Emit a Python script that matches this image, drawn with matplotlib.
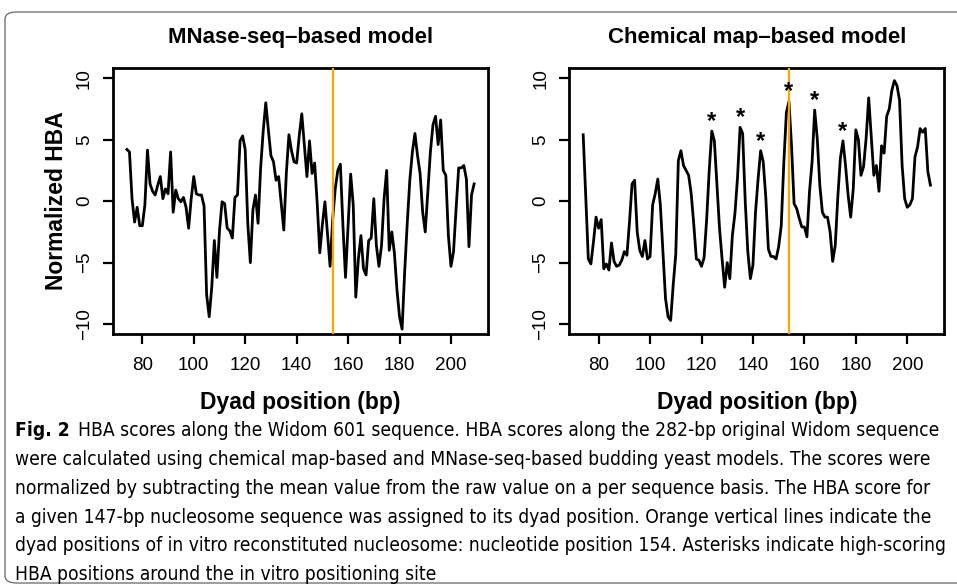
import matplotlib
matplotlib.use("Agg")
import matplotlib.pyplot as plt
from matplotlib.patches import FancyBboxPatch

# dyad positions (bp) of the 147-bp windows on the 282-bp Widom sequence
dyad = list(range(74, 210))

mnase_hba = [
    4.2, 4.0, 0.2, -1.7, -0.5, -2.0, -2.0, -0.3, 4.15, 1.4,
    0.8, 0.5, 1.3, 2.0, 0.2, 1.0, 0.6, 4.0, -0.9, 0.9,
    0.2, -0.05, 0.3, -0.5, -2.2, 0.2, 2.0, 0.6, 0.5, 0.5,
    -0.4, -7.6, -9.4, -7.0, -3.2, -6.2, -2.4, -0.05, -0.2, -2.2,
    -2.4, -3.0, 0.3, 0.5, 4.9, 5.3, 4.2, -1.8, -5.0, -0.7,
    0.5, -1.8, 2.7, 5.7, 8.0, 5.8, 3.7, 3.2, 1.7, 2.0,
    -0.2, -2.35, 2.3, 5.4, 4.1, 3.2, 3.1, 5.3, 7.1, 4.5,
    2.0, 4.9, 2.25, 3.1, -0.2, -4.2, -1.9, -0.05, -2.7, -5.3,
    -1.5, 1.0, 2.5, 3.0, -2.0, -6.2, -2.0, 2.2, -0.3, -7.8,
    -4.7, -2.8, -5.5, -6.0, -3.2, -3.0, 0.2, -3.6, -5.3, -3.6,
    0.2, 2.5, -4.0, -2.5, -4.2, -7.2, -9.4, -10.4, -5.75, -1.8,
    1.7, 4.0, 5.5, 3.7, 2.25, -0.9, -2.5, 0.8, 4.0, 6.2,
    6.9, 4.6, 6.6, 2.5, 2.1, -2.8, -5.3, -4.1, -0.6, 2.7,
    2.7, 2.9, 1.8, -3.7, 0.5, 1.4,
]

chem_hba = [
    5.4, 0.3, -4.7, -5.1, -3.3, -1.3, -2.2, -1.5, -5.5, -5.1,
    -5.6, -3.4, -4.9, -5.3, -5.2, -4.8, -4.1, -4.4, -1.7, 1.4,
    1.7, -2.5, -4.0, -4.5, -3.2, -4.7, -4.5, -0.3, 0.6, 1.8,
    -0.3, -4.1, -7.9, -9.4, -9.7, -6.8, -4.3, 3.3, 4.1, 2.9,
    2.5, 2.1, 0.6, -1.9, -4.7, -4.8, -5.3, -4.6, -1.5, 2.5,
    5.7, 4.9, 1.3, -2.2, -4.7, -7.0, -5.0, -6.3, -2.8, -1.0,
    1.9, 6.0, 5.5, 0.0, -4.1, -6.3, -5.2, -0.9, 1.8, 4.1,
    3.2, 0.3, -3.9, -4.5, -4.5, -4.7, -3.7, -2.0, 3.1, 7.2,
    8.1, 4.5, -0.2, -0.6, -1.4, -2.1, -2.1, -2.9, 0.8, 3.2,
    7.4, 5.1, 1.3, -0.9, -1.3, -1.3, -2.5, -4.9, -3.6, 0.35,
    3.5, 4.9, 2.9, 0.5, -1.3, 1.0, 5.8, 5.0, 2.1, 2.8,
    5.1, 8.4, 5.2, 2.1, 2.9, 0.8, 4.5, 3.9, 6.9, 7.5,
    9.0, 9.8, 9.4, 8.2, 2.9, 0.2, -0.5, -0.3, 0.2, 3.6,
    4.4, 5.9, 5.6, 5.9, 2.4, 1.3,
]

in_vitro_dyad = 154
star_dyads = [124, 135, 143, 154, 164, 175]
xticks = [80, 100, 120, 140, 160, 180, 200]
yticks = [-10, -5, 0, 5, 10]
titles = ["MNase-seq\u2013based model", "Chemical map\u2013based model"]

caption = [
    "HBA scores along the Widom 601 sequence. HBA scores along the 282-bp original Widom sequence",
    "were calculated using chemical map-based and MNase-seq-based budding yeast models. The scores were",
    "normalized by subtracting the mean value from the raw value on a per sequence basis. The HBA score for",
    "a given 147-bp nucleosome sequence was assigned to its dyad position. Orange vertical lines indicate the",
    "dyad positions of in vitro reconstituted nucleosome: nucleotide position 154. Asterisks indicate high-scoring",
    "HBA positions around the in vitro positioning site",
]

W, H = 957, 584
fig = plt.figure(figsize=(W / 100, H / 100), dpi=100)
plt.rcParams['font.family'] = ['Liberation Sans', 'DejaVu Sans']


def fx(px):
    return px / W


def fy(py):
    return 1 - py / H


# outer frame of the figure box (runs off the right edge)
frame = FancyBboxPatch((fx(5), fy(583)), fx(1000), (583 - 12) / H,
                       boxstyle="round,pad=0,rounding_size=0.012",
                       transform=fig.transFigure, fill=False,
                       edgecolor="#666666", linewidth=0.9)
fig.patches.append(frame)

panels = [(113, mnase_hba), (569.3, chem_hba)]
axes = []
for i, (left, vals) in enumerate(panels):
    ax = fig.add_axes([fx(left), fy(334), 375 / W, (334 - 68.3) / H])
    ax.plot(dyad, vals, color="black", lw=2.0, zorder=2)
    ax.axvline(in_vitro_dyad, color="#FFA500", lw=1.6, zorder=3)
    ax.set_xlim(68.6, 214.4)
    ax.set_ylim(-10.8, 10.8)
    ax.set_xticks(xticks)
    ax.set_yticks(yticks)
    ax.tick_params(direction="out", length=7.5, width=1.6, labelsize=13.5)
    ax.tick_params(axis="x", pad=9)
    ax.tick_params(axis="y", pad=7, labelrotation=90)
    for lbl in ax.get_yticklabels():
        lbl.set_va("center")
    for sp in ax.spines.values():
        sp.set_linewidth(2.0)
    center = left + 375 / 2
    fig.text(fx(center), fy(38), titles[i], ha="center", va="center",
             fontsize=16, fontweight="bold")
    fig.text(fx(center), fy(403), "Dyad position (bp)", ha="center",
             va="center", fontsize=16.5, fontweight="bold")
    axes.append(ax)

fig.text(fx(57), fy(201), "Normalized HBA", rotation=90, ha="center",
         va="center", fontsize=16.5, fontweight="bold")

# asterisks above the high-scoring chemical-map peaks
for d in star_dyads:
    peak = chem_hba[dyad.index(d)]
    axes[1].text(d, peak + 0.25, "*", ha="center", va="baseline",
                 fontsize=17, fontweight="bold", zorder=4)

# caption: condensed face if there is one, size fitted to the first line
cap_kw = dict(family="DejaVu Sans", fontstretch="condensed")
fig.canvas.draw()
renderer = fig.canvas.get_renderer()
line_y = [431 + 28.7 * k for k in range(len(caption))]
size = 15.0
fig_lbl = fig.text(fx(15), fy(line_y[0]), "Fig. 2", ha="left", va="center",
                   fontsize=size, fontweight="bold", **cap_kw)
probe = fig.text(0, 0, caption[0], fontsize=size, **cap_kw)
w_fig = fig_lbl.get_window_extent(renderer).width
w_line = probe.get_window_extent(renderer).width
probe.remove()
scale = (943 - 15 - 8) / (w_fig + w_line)
size = size * scale
fig_lbl.set_fontsize(size)
first_x = 15 + fig_lbl.get_window_extent(renderer).width + 8
for k, line in enumerate(caption):
    x0 = first_x if k == 0 else 15
    fig.text(fx(x0), fy(line_y[k]), line, ha="left", va="center",
             fontsize=size, **cap_kw)

fig.savefig("out.png", dpi=100)
